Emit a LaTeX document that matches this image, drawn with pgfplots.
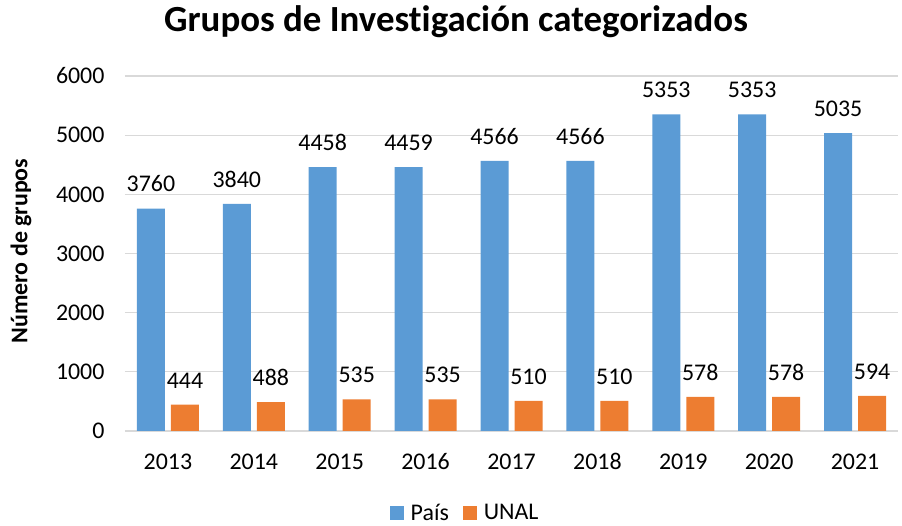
\documentclass[border=0pt]{standalone}
\usepackage{pgfplots}
\pgfplotsset{compat=1.18}
\usepackage{fontspec}
\setmainfont{Carlito}[Ligatures=CommonOff]
\definecolor{cblue}{HTML}{5B9BD5}
\definecolor{corange}{HTML}{ED7D31}
\definecolor{cgrid}{HTML}{D9D9D9}
\begin{document}
\begin{tikzpicture}
\begin{axis}[
  name=ax,
  scale only axis,
  width=773bp, height=355bp,
  ybar=6bp, bar width=28bp,
  xmin=-0.5, xmax=8.5,
  ymin=0, ymax=6000,
  ytick={0,1000,...,6000},
  xtick=data,
  xticklabels={2013,2014,2015,2016,2017,2018,2019,2020,2021},
  major tick length=0pt,
  axis line style={draw=none},
  ymajorgrids, grid style={cgrid, line width=1.3bp},
  /pgf/number format/assume math mode=true,
  /pgf/number format/1000 sep={},
  tick label style={font=\fontsize{24}{28}\selectfont, text=black},
  yticklabel style={xshift=-17bp},
  xticklabel style={anchor=base, yshift=-39bp},
  nodes near coords,
  every node near coord/.append style={font=\fontsize{24}{28}\selectfont, text=black, yshift=13bp},
  legend style={at={(0.44,-0.231)}, anchor=center, draw=none, legend columns=2,
    font=\fontsize{24}{28}\selectfont,
    /tikz/every odd column/.append style={column sep=5bp},
    /tikz/every even column/.append style={column sep=12bp}},
  legend image code/.code={\fill[#1] (0bp,-7bp) rectangle (14bp,7bp);},
]
\addplot[fill=cblue, draw=none] coordinates {(0,3760) (1,3840) (2,4458) (3,4459) (4,4566) (5,4566) (6,5353) (7,5353) (8,5035)};
\addplot[fill=corange, draw=none] coordinates {(0,444) (1,488) (2,535) (3,535) (4,510) (5,510) (6,578) (7,578) (8,594)};
\legend{País, UNAL}
\end{axis}
\node[anchor=base, font=\fontsize{37}{42}\selectfont\bfseries] at ([xshift=331bp,yshift=45bp]ax.north west) {Grupos de Investigación categorizados};
\node[rotate=90, anchor=center, font=\fontsize{24}{28}\selectfont\bfseries] at ([xshift=-104bp,yshift=180bp]ax.south west) {Número de grupos};
\path[use as bounding box] ([xshift=-125bp,yshift=-93bp]ax.south west) rectangle ([xshift=4bp,yshift=76bp]ax.north east);
\end{tikzpicture}
\end{document}
